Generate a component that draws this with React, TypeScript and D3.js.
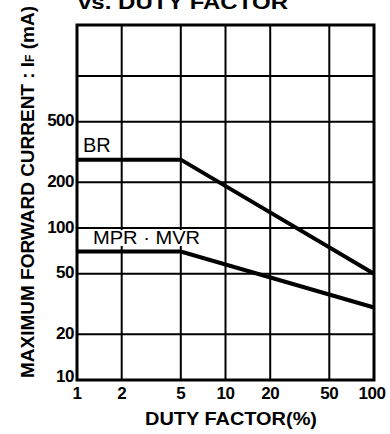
import React from 'react';
import * as d3 from 'd3';

// duty factor (%) on x, max forward current (mA) on y
const dutyTicks = [1, 2, 5, 10, 20, 50, 100];
const dutyGrid = [2, 5, 10, 20, 50];
const currentTicks = [10, 20, 50, 100, 200, 500];
const currentGrid = [20, 50, 100, 200, 500, 1000];

const brDuty = [1, 5, 100];
const brCurrent = [282, 282, 50];
const mvrDuty = [1, 5, 100];
const mvrCurrent = [70, 70, 30];

const FONT = "'Liberation Sans', Arial, sans-serif";

const App = () => {
  const width = 390;
  const height = 434;
  const left = 77, right = 374, top = 25, bottom = 380;

  const x = d3.scaleLog().domain([1, 100]).range([left, right]);
  const y = d3.scaleLog().domain([10, 2170]).range([bottom, top]);

  const line = d3.line<[number, number]>()
    .x(d => x(d[0]))
    .y(d => y(d[1]));

  const brPts = brDuty.map((d, i) => [d, brCurrent[i]] as [number, number]);
  const mvrPts = mvrDuty.map((d, i) => [d, mvrCurrent[i]] as [number, number]);

  return (
    <svg width={width} height={height} style={{ position: 'absolute', left: 0, top: 0, background: '#fff' }}>
      <rect x={0} y={0} width={width} height={height} fill="#fff" />

      {/* title, cut off at the top as in the scan */}
      <text x={78} y={9} fontFamily={FONT} fontWeight="bold" fontSize={21}
        textLength={210} lengthAdjust="spacingAndGlyphs" fill="#000">vs. DUTY FACTOR</text>

      {/* grid */}
      {dutyGrid.map(d => (
        <line key={'gx' + d} x1={x(d)} x2={x(d)} y1={top} y2={bottom} stroke="#000" strokeWidth={2} />
      ))}
      {currentGrid.map(c => (
        <line key={'gy' + c} x1={left} x2={right} y1={y(c)} y2={y(c)} stroke="#000" strokeWidth={2} />
      ))}

      {/* label boxes */}
      <rect x={93} y={230} width={120} height={16} fill="#fff" />
      <text x={83} y={152} fontFamily={FONT} fontSize={20} fill="#000">BR</text>
      <text x={93} y={244} fontFamily={FONT} fontSize={19} textLength={107}
        lengthAdjust="spacingAndGlyphs" fill="#000">MPR · MVR</text>

      {/* curves */}
      <path d={line(brPts) || ''} fill="none" stroke="#000" strokeWidth={4} />
      <path d={line(mvrPts) || ''} fill="none" stroke="#000" strokeWidth={4} />

      {/* frame */}
      <rect x={left} y={top} width={right - left} height={bottom - top} fill="none" stroke="#000" strokeWidth={3} />

      {/* y ticks */}
      {currentTicks.map(c => (
        <text key={'ty' + c} x={74} y={y(c) - (c === 10 ? 2 : 0)} textAnchor="end" dominantBaseline="middle"
          fontFamily={FONT} fontWeight="bold" fontSize={17} letterSpacing={-0.5} fill="#000">{c}</text>
      ))}
      {/* x ticks */}
      {dutyTicks.map(d => (
        <text key={'tx' + d} x={x(d) + (d === 100 ? -2 : 0)} y={395} textAnchor="middle" dominantBaseline="middle"
          fontFamily={FONT} fontWeight="bold" fontSize={17} letterSpacing={-0.5} fill="#000">{d}</text>
      ))}

      {/* axis titles */}
      <text x={231} y={425} textAnchor="middle" fontFamily={FONT} fontWeight="bold" fontSize={19}
        textLength={172} lengthAdjust="spacingAndGlyphs" fill="#000">DUTY FACTOR(%)</text>
      <text transform="translate(34,378) rotate(-90)" fontFamily={FONT} fontWeight="bold" fontSize={19}
        textLength={372} lengthAdjust="spacingAndGlyphs" fill="#000">
        MAXIMUM FORWARD CURRENT : I<tspan fontSize={12}>F</tspan> (mA)
      </text>
    </svg>
  );
};

export default App;
